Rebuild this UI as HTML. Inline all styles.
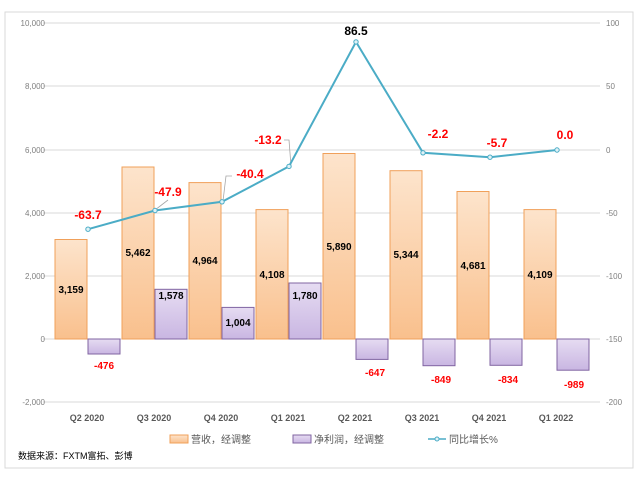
<!DOCTYPE html><html><head><meta charset="utf-8"><style>body{margin:0;background:#fff}svg text{font-family:"Liberation Sans","Noto Sans CJK SC",sans-serif}</style></head><body>
<svg width="640" height="480" xmlns="http://www.w3.org/2000/svg">
<defs>
<linearGradient id="o" x1="0" y1="0" x2="0" y2="1"><stop offset="0" stop-color="#fde4cc"/><stop offset="1" stop-color="#f9c08d"/></linearGradient>
<linearGradient id="p" x1="0" y1="0" x2="0" y2="1"><stop offset="0" stop-color="#e6dcf2"/><stop offset="1" stop-color="#c9b6e2"/></linearGradient>
</defs>
<rect x="5" y="12" width="628" height="456" fill="#fff" stroke="#d9d9d9"/>
<g stroke="#d9d9d9" stroke-width="1">
<line x1="43" x2="600" y1="23" y2="23"/><line x1="43" x2="600" y1="86" y2="86"/><line x1="43" x2="600" y1="150" y2="150"/><line x1="43" x2="600" y1="213" y2="213"/><line x1="43" x2="600" y1="276" y2="276"/><line x1="43" x2="600" y1="339" y2="339"/><line x1="43" x2="600" y1="402" y2="402"/>
</g>
<g font-size="8" fill="#7f7f7f" text-anchor="end">
<text x="45" y="26">10,000</text><text x="45" y="89">8,000</text><text x="45" y="153">6,000</text><text x="45" y="216">4,000</text><text x="45" y="279">2,000</text><text x="45" y="342">0</text><text x="45" y="405">-2,000</text>
</g>
<g font-size="8" fill="#7f7f7f">
<text x="606" y="26">100</text><text x="606" y="89">50</text><text x="606" y="153">0</text><text x="606" y="216">-50</text><text x="606" y="279">-100</text><text x="606" y="342">-150</text><text x="606" y="405">-200</text>
</g>
<g stroke="#f0a05a" stroke-width="1" fill="url(#o)">
<rect x="55" y="239.5" width="32" height="99.5"/>
<rect x="122" y="167" width="32" height="172"/>
<rect x="189" y="182.6" width="32" height="156.4"/>
<rect x="256" y="209.6" width="32" height="129.4"/>
<rect x="323" y="153.5" width="32" height="185.5"/>
<rect x="390" y="170.7" width="32" height="168.3"/>
<rect x="457" y="191.5" width="32" height="147.5"/>
<rect x="524" y="209.6" width="32" height="129.4"/>
</g>
<g stroke="#8064a2" stroke-width="1" fill="url(#p)">
<rect x="88" y="339" width="32" height="15"/>
<rect x="155" y="289.3" width="32" height="49.7"/>
<rect x="222" y="307.4" width="32" height="31.6"/>
<rect x="289" y="283" width="32" height="56"/>
<rect x="356" y="339" width="32" height="20.4"/>
<rect x="423" y="339" width="32" height="26.7"/>
<rect x="490" y="339" width="32" height="26.3"/>
<rect x="557" y="339" width="32" height="31.2"/>
</g>
<g font-size="10" font-weight="bold" fill="#000" text-anchor="middle">
<text x="71" y="293">3,159</text><text x="138" y="256">5,462</text><text x="205" y="264">4,964</text><text x="272" y="278">4,108</text><text x="339" y="250">5,890</text><text x="406" y="258">5,344</text><text x="473" y="269">4,681</text><text x="540" y="278">4,109</text>
<text x="171" y="299">1,578</text><text x="238" y="326">1,004</text><text x="305" y="299">1,780</text>
</g>
<g font-size="10" font-weight="bold" fill="#ff0000" text-anchor="middle">
<text x="104" y="369">-476</text><text x="375" y="376">-647</text><text x="441" y="383">-849</text><text x="508" y="383">-834</text><text x="574" y="388">-989</text>
</g>
<g stroke="#a6a6a6" fill="none" stroke-width="0.8"><polyline points="155,210 168,200"/><polyline points="223,201 226,176 232,176"/><polyline points="291,166 289,140 284,140"/></g>
<polyline points="88,229.2 155,210.5 222,201.8 289,166.4 356,41.9 423,152.8 490,157.2 557,150" fill="none" stroke="#4bacc6" stroke-width="2"/>
<g fill="#dff2f7" stroke="#4bacc6" stroke-width="1">
<circle cx="88" cy="229.2" r="2.2"/><circle cx="155" cy="210.5" r="2.2"/><circle cx="222" cy="201.8" r="2.2"/><circle cx="289" cy="166.4" r="2.2"/><circle cx="356" cy="41.9" r="2.2"/><circle cx="423" cy="152.8" r="2.2"/><circle cx="490" cy="157.2" r="2.2"/><circle cx="557" cy="150" r="2.2"/>
</g>
<g font-size="12" font-weight="bold" fill="#ff0000" text-anchor="middle">
<text x="88" y="219">-63.7</text><text x="168" y="196">-47.9</text><text x="250" y="178">-40.4</text><text x="268" y="144">-13.2</text><text x="438" y="138">-2.2</text><text x="497" y="147">-5.7</text><text x="565" y="139">0.0</text>
</g>
<text x="356" y="35" font-size="12" font-weight="bold" fill="#000" text-anchor="middle">86.5</text>
<g font-size="9" font-weight="bold" fill="#595959" text-anchor="middle">
<text x="87" y="421">Q2 2020</text><text x="154" y="421">Q3 2020</text><text x="221" y="421">Q4 2020</text><text x="288" y="421">Q1 2021</text><text x="355" y="421">Q2 2021</text><text x="422" y="421">Q3 2021</text><text x="489" y="421">Q4 2021</text><text x="556" y="421">Q1 2022</text>
</g>
<g font-size="10" fill="#595959">
<rect x="170" y="435" width="18" height="8" fill="url(#o)" stroke="#f0a05a"/><text x="191" y="443">营收，经调整</text>
<rect x="293" y="435" width="18" height="8" fill="url(#p)" stroke="#8064a2"/><text x="314" y="443">净利润，经调整</text>
<line x1="428" x2="446" y1="439" y2="439" stroke="#4bacc6" stroke-width="1.5"/><circle cx="437" cy="439" r="2" fill="#dff2f7" stroke="#4bacc6"/><text x="449" y="443">同比增长%</text>
</g>
<text x="18" y="459" font-size="9" fill="#000">数据来源：FXTM富拓、彭博</text>
</svg>
</body></html>
